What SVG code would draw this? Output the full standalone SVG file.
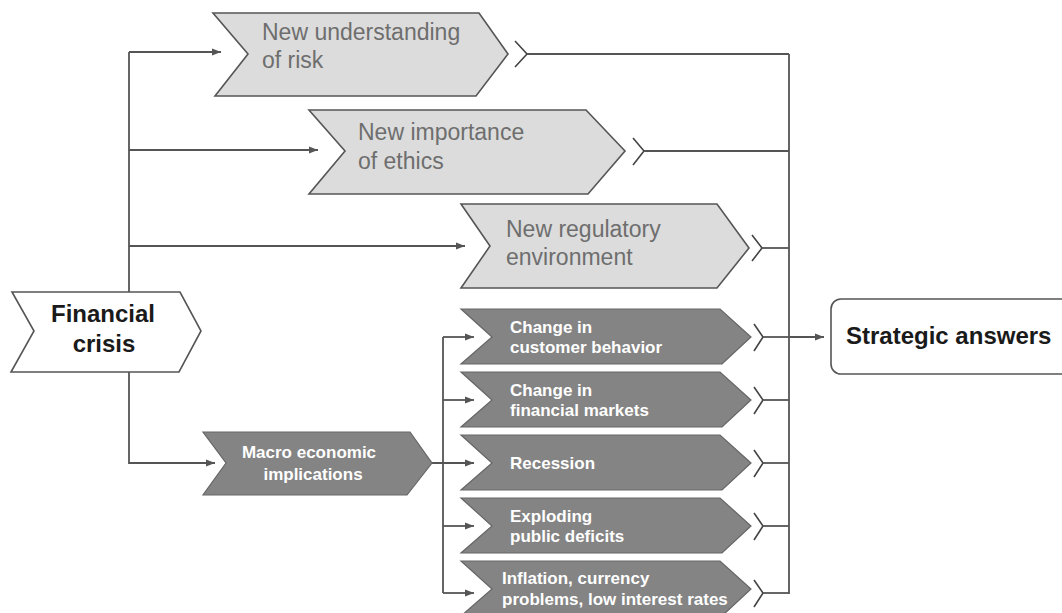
<svg xmlns="http://www.w3.org/2000/svg" width="1062" height="613" viewBox="0 0 1062 613">
<defs>
<marker id="ah" markerUnits="userSpaceOnUse" markerWidth="10" markerHeight="8" refX="9" refY="4" orient="auto">
<path d="M0,0.5 L9,4 L0,7.5 Z" fill="#555"/>
</marker>
<style>
.light{fill:#dcdcdc;stroke:#555;stroke-width:1.6}
.dark{fill:#848484;stroke:#666;stroke-width:1.2}
.start{fill:#fff;stroke:#555;stroke-width:1.6}
.box{fill:#fff;stroke:#555;stroke-width:1.6}
.lt{font-family:"Liberation Sans",Arial,sans-serif;font-size:23px;fill:#6e6e6e}
.dt{font-family:"Liberation Sans",Arial,sans-serif;font-size:17px;font-weight:bold;fill:#fff}
.bt{font-family:"Liberation Sans",Arial,sans-serif;font-size:24px;font-weight:bold;fill:#1a1a1a}
.ln{fill:none;stroke:#555;stroke-width:1.8}
.ar{fill:none;stroke:#555;stroke-width:1.8;marker-end:url(#ah)}
.gt{fill:none;stroke:#444;stroke-width:1.6}
</style>
</defs>
<rect width="1062" height="613" fill="#fff"/>

<g id="connectors">
<path class="ln" d="M129,292 V52"/>
<path class="ar" d="M129,52 H221"/>
<path class="ar" d="M129,150 H318"/>
<path class="ar" d="M129,246 H465"/>
<path class="ar" d="M129,372 V463 H215"/>
<path class="ar" d="M432,463 H474"/>
<path class="ln" d="M443,337 V593"/>
<path class="ar" d="M443,337 H474"/>
<path class="ar" d="M443,400 H474"/>
<path class="ar" d="M443,526 H474"/>
<path class="ar" d="M443,593 H474"/>
<path class="gt" d="M515,41 L527,54 L515,67"/>
<path class="ln" d="M527,54 H789"/>
<path class="gt" d="M633,138 L644,151 L633,165"/>
<path class="ln" d="M644,151 H789"/>
<path class="gt" d="M752,235 L762,248 L752,261"/>
<path class="ln" d="M762,248 H789"/>
<path class="gt" d="M754,324 L763,337 L754,351"/>
<path class="ln" d="M763,337 H789"/>
<path class="gt" d="M754,387 L763,400 L754,414"/>
<path class="ln" d="M763,400 H789"/>
<path class="gt" d="M754,450 L763,463 L754,477"/>
<path class="ln" d="M763,463 H789"/>
<path class="gt" d="M754,513 L763,526 L754,540"/>
<path class="ln" d="M763,526 H789"/>
<path class="gt" d="M754,580 L763,593 L754,607"/>
<path class="ln" d="M763,593 H789"/>
<path class="ln" d="M789,54 V594"/>
<path class="ar" d="M789,337 H824"/>
</g>

<g id="node-financial-crisis">
<polygon class="start" points="12,292 180,292 201,331 179,372 11,372 34,331"/>
<text class="bt" x="103" y="322" text-anchor="middle">Financial</text>
<text class="bt" x="104" y="352" text-anchor="middle">crisis</text>
</g>

<g id="node-risk">
<polygon class="light" points="213,13 479,13 508,54 476,96 215,96 248,54"/>
<text class="lt" x="262" y="40">New understanding</text>
<text class="lt" x="262" y="68">of risk</text>
</g>

<g id="node-ethics">
<polygon class="light" points="309,110 586,110 625,151 588,194 309,194 345,151"/>
<text class="lt" x="358" y="140">New importance</text>
<text class="lt" x="358" y="169">of ethics</text>
</g>

<g id="node-regulatory">
<polygon class="light" points="461,204 717,204 749,248 717,288 461,288 490,246"/>
<text class="lt" x="506" y="237">New regulatory</text>
<text class="lt" x="506" y="265">environment</text>
</g>

<g id="node-macro">
<polygon class="dark" points="203,432 410,432 432,463 407,495 203,495 226,463"/>
<text class="dt" x="309" y="458" text-anchor="middle">Macro economic</text>
<text class="dt" x="313" y="480" text-anchor="middle">implications</text>
</g>

<g id="node-customer">
<polygon class="dark" points="461,309 720,309 751,337 722,364 461,364 492,337"/>
<text class="dt" x="510" y="333">Change in</text>
<text class="dt" x="510" y="353">customer behavior</text>
</g>

<g id="node-markets">
<polygon class="dark" points="461,372 720,372 751,400 722,427 461,427 492,400"/>
<text class="dt" x="510" y="396">Change in</text>
<text class="dt" x="510" y="416">financial markets</text>
</g>

<g id="node-recession">
<polygon class="dark" points="461,435 720,435 751,463 722,490 461,490 492,463"/>
<text class="dt" x="510" y="469">Recession</text>
</g>

<g id="node-deficits">
<polygon class="dark" points="461,498 720,498 751,526 722,553 461,553 492,526"/>
<text class="dt" x="510" y="522">Exploding</text>
<text class="dt" x="510" y="542">public deficits</text>
</g>

<g id="node-inflation">
<polygon class="dark" points="461,561 720,561 751,589 722,616 461,616 492,589"/>
<text class="dt" x="502" y="584">Inflation, currency</text>
<text class="dt" x="502" y="605">problems, low interest rates</text>
</g>

<g id="node-strategic">
<rect class="box" x="831" y="299" width="250" height="75" rx="10" ry="10"/>
<text class="bt" x="846" y="344">Strategic answers</text>
</g>
</svg>
